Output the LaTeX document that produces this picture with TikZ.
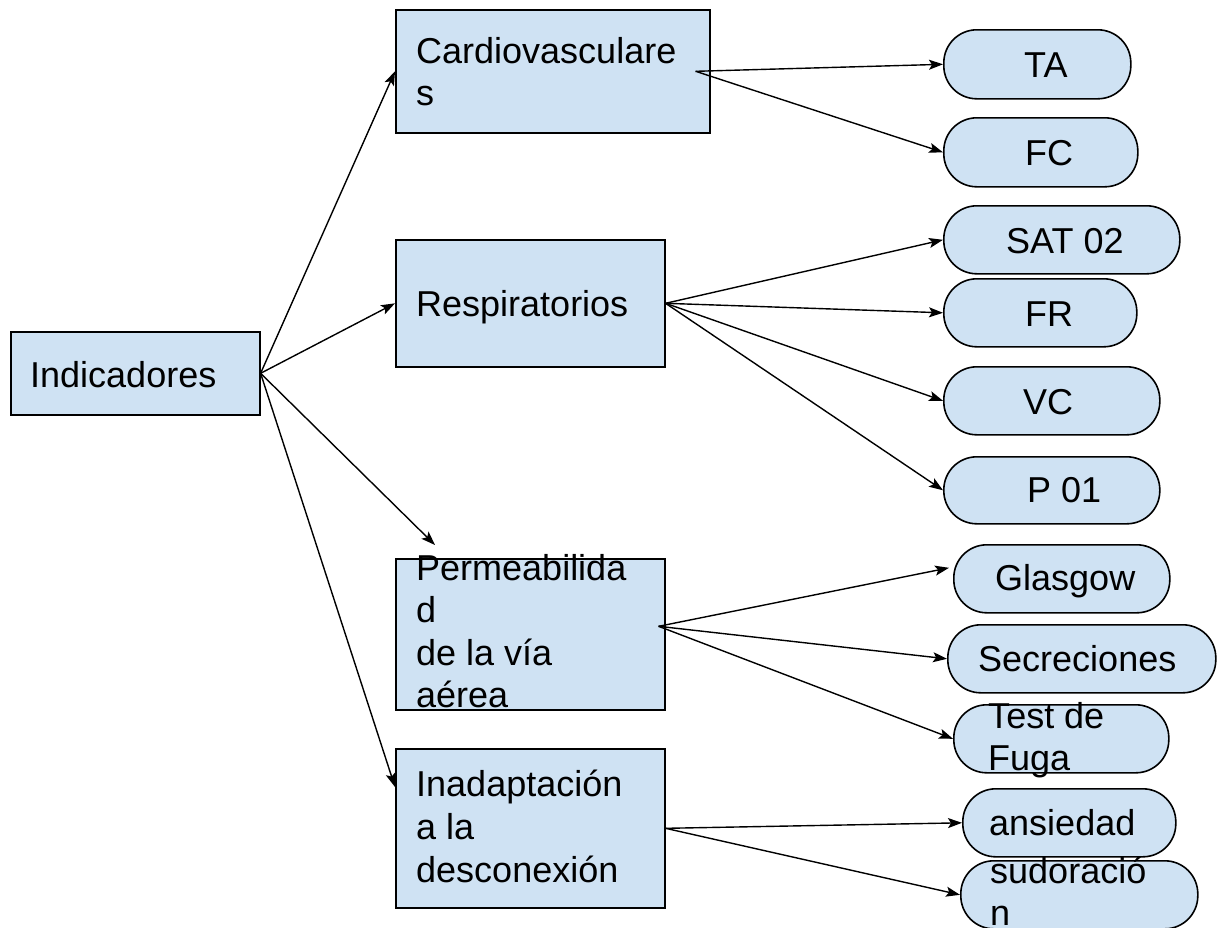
\documentclass[tikz,border=0pt]{standalone}
\usepackage{fontspec}
\setmainfont{Liberation Sans}
\usetikzlibrary{arrows.meta,calc}
\definecolor{boxfill}{HTML}{CFE2F3}
\newcommand\ml[1]{\begin{tabular}[t]{@{}l@{}}#1\end{tabular}}
\begin{document}
\begin{tikzpicture}[x=1pt,y=-1pt,
  box/.style={draw=black, line width=1.6pt, fill=boxfill, inner sep=0pt, anchor=north west},
  pill/.style={box, rounded corners=33pt},
  txt/.style={inner sep=0pt, anchor=base west, font=\fontsize{36}{42.5}\selectfont},
  conn/.style={line width=1.4pt, -{Stealth[length=14pt,width=10pt,inset=3pt]}}]
\useasboundingbox (0,0) rectangle (1222,927);
% rectangular boxes
\node[box, minimum width=249pt, minimum height=83pt] (ind) at (10,331) {};
\node[box, minimum width=314pt, minimum height=123pt] (cardio) at (395,9) {};
\node[box, minimum width=269pt, minimum height=127pt] (resp) at (395,239) {};
\node[box, minimum width=269pt, minimum height=151pt] (perm) at (395,558) {};
\node[box, minimum width=269pt, minimum height=159pt] (inad) at (395,748) {};
% pills
\node[pill, minimum width=187pt, minimum height=69pt] (ta) at (943,29) {};
\node[pill, minimum width=194pt, minimum height=69pt] (fc) at (943,117) {};
\node[pill, minimum width=236pt, minimum height=68pt] (sat) at (943,205) {};
\node[pill, minimum width=193pt, minimum height=68pt] (fr) at (943,278) {};
\node[pill, minimum width=216pt, minimum height=68pt] (vc) at (943,366) {};
\node[pill, minimum width=216pt, minimum height=67pt] (pz) at (943,456) {};
\node[pill, minimum width=216pt, minimum height=68pt] (glas) at (953,544) {};
\node[pill, minimum width=268pt, minimum height=68pt] (sec) at (947,624) {};
\node[pill, minimum width=215pt, minimum height=68pt] (test) at (953,704) {};
\node[pill, minimum width=213pt, minimum height=68pt] (ans) at (962,788) {};
\node[pill, minimum width=237pt, minimum height=68pt] (sud) at (960,860) {};
% connectors
\coordinate (permtip) at (435,545);
\draw[conn] (ind.east) -- (cardio.west);
\draw[conn] (ind.east) -- (resp.west);
\draw[conn] (ind.east) -- (permtip);
\draw[conn] (ind.east) -- ($(inad.north west)+(0,39)$);
\coordinate (cardioout) at ($(cardio.east)+(-15,0)$);
\draw[conn] (cardioout) -- (ta.west);
\draw[conn] (cardioout) -- (fc.west);
\draw[conn] (resp.east) -- (sat.west);
\draw[conn] (resp.east) -- (fr.west);
\draw[conn] (resp.east) -- (vc.west);
\draw[conn] (resp.east) -- (pz.west);
\coordinate (permout) at ($(perm.east)+(-7,-8)$);
\draw[conn] (permout) -- ($(glas.west)+(-4,-11)$);
\draw[conn] (permout) -- (sec.west);
\draw[conn] (permout) -- (test.west);
\draw[conn] (inad.east) -- (ans.west);
\draw[conn] (inad.east) -- (sud.west);
% texts
\node[txt] (t-ind) at (30,387) {Indicadores};
\node[txt] (t-cardio) at (416,63) {\ml{Cardiovasculare\\s}};
\node[txt] (t-resp) at (416,316) {Respiratorios};
\node[txt] (t-perm) at (416,580) {\ml{Permeabilida\\d\\de la vía\\aérea}};
\node[txt, font=\fontsize{36}{43}\selectfont] (t-inad) at (416,796) {\ml{Inadaptación\\a la\\desconexión}};
\node[txt] (t-ta) at (1024,77) {TA};
\node[txt] (t-fc) at (1025,165) {FC};
\node[txt] (t-sat) at (1006,253) {SAT 02};
\node[txt] (t-fr) at (1025,326) {FR};
\node[txt] (t-vc) at (1023,414) {VC};
\node[txt] (t-pz) at (1027,502) {P 01};
\node[txt] (t-glas) at (995,590) {Glasgow};
\node[txt] (t-sec) at (978,671) {Secreciones};
\node[txt] (t-test) at (988,728) {\ml{Test de\\Fuga}};
\node[txt] (t-ans) at (989,835) {ansiedad};
\node[txt] (t-sud) at (990,883) {\ml{sudoració\\n}};
\end{tikzpicture}
\end{document}
